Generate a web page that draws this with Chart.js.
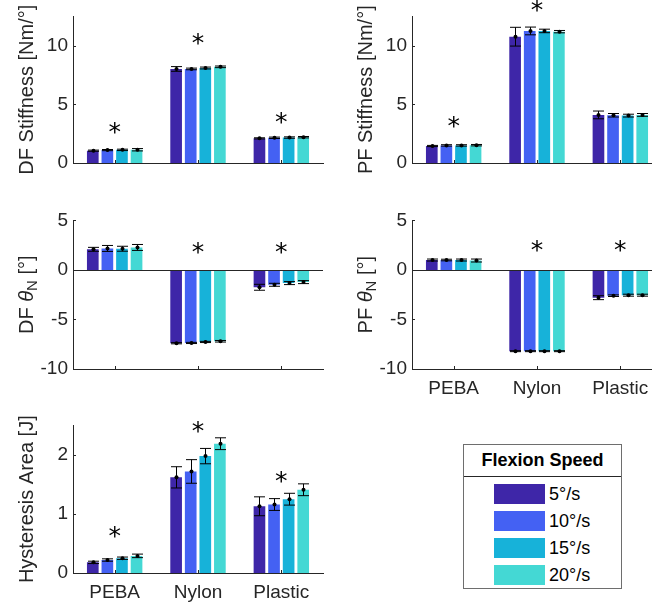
<!DOCTYPE html>
<html>
<head>
<meta charset="utf-8">
<script src="https://cdn.jsdelivr.net/npm/chart.js@4"></script>
<style>
    html, body { margin: 0; padding: 0; background: #fff; }
    body { width: 652px; height: 605px; overflow: hidden; position: relative; font-family: "Liberation Sans", Arial, sans-serif; }
    canvas { position: absolute; }
    #legend { position: absolute; left: 463px; top: 444px; width: 157px; height: 143px; border: 1px solid #6e6e6e; background: #fff; }
    #legend .ttl { height: 31px; line-height: 31px; border-bottom: 1px solid #262626; text-align: center; font-weight: bold; font-size: 18px; color: #000; }
    #legend .row { position: absolute; left: 30px; height: 20px; }
    #legend .sw { position: absolute; left: 0; top: 0; width: 51px; height: 20px; }
    #legend .lb { position: absolute; left: 55px; top: -1px; font-size: 18px; line-height: 22px; color: #000; white-space: nowrap; }
</style>
</head>
<body>
<canvas id="df_stiff" width="330" height="190" style="left:0;top:0"></canvas>
<canvas id="pf_stiff" width="330" height="190" style="left:339px;top:0"></canvas>
<canvas id="df_theta" width="330" height="195" style="left:0;top:204px"></canvas>
<canvas id="pf_theta" width="330" height="195" style="left:339px;top:204px"></canvas>
<canvas id="hyst" width="330" height="194" style="left:0;top:409px"></canvas>
<div id="legend"><div class="ttl">Flexion Speed</div></div>

<script>
var materials = ['PEBA', 'Nylon', 'Plastic'];
var speeds = ['5°/s', '10°/s', '15°/s', '20°/s'];
var speedColors = ['#3E26A8', '#4461F3', '#17B2D9', '#44D8D4'];

// one row per speed, values for PEBA, Nylon, Plastic
var dfStiffMean = [[1.05, 8.02, 2.1], [1.1, 8.02, 2.15], [1.12, 8.1, 2.17], [1.13, 8.2, 2.2]];
var dfStiffErr  = [[0.05, 0.2, 0.05], [0.05, 0.07, 0.06], [0.06, 0.08, 0.06], [0.1, 0.07, 0.06]];
var dfStiffStar = [3.0, 10.6, 3.8];
var stiffTicks  = [0, 5, 10];

var pfStiffMean = [[1.45, 10.77, 4.1], [1.5, 11.26, 4.07], [1.5, 11.26, 4.04], [1.52, 11.2, 4.1]];
var pfStiffErr  = [[0.05, 0.8, 0.33], [0.06, 0.33, 0.15], [0.06, 0.15, 0.12], [0.06, 0.1, 0.12]];
var pfStiffStar = [3.5, 13.4, null];

var dfThetaMean = [[2.08, -7.4, -1.75], [2.17, -7.37, -1.5], [2.14, -7.27, -1.33], [2.27, -7.2, -1.23]];
var dfThetaErr  = [[0.2, 0.06, 0.3], [0.3, 0.06, 0.15], [0.25, 0.06, 0.15], [0.3, 0.08, 0.15]];
var dfThetaStar = [null, 2.2, 2.2];
var thetaTicks  = [-10, -5, 0, 5];

var pfThetaMean = [[1.0, -8.2, -2.8], [1.0, -8.2, -2.6], [1.0, -8.2, -2.55], [0.95, -8.2, -2.55]];
var pfThetaErr  = [[0.1, 0.05, 0.2], [0.08, 0.05, 0.08], [0.1, 0.05, 0.1], [0.15, 0.05, 0.1]];
var pfThetaStar = [null, 2.4, 2.4];

var hystMean = [[0.18, 1.62, 1.13], [0.22, 1.72, 1.16], [0.25, 1.98, 1.25], [0.29, 2.19, 1.41]];
var hystErr  = [[0.02, 0.18, 0.16], [0.02, 0.2, 0.1], [0.02, 0.13, 0.1], [0.03, 0.1, 0.1]];
var hystStar = [0.7, 2.47, 1.63];
var hystTicks = [0, 1, 2];

var axisColor = '#262626';
var fontFam = '"Liberation Sans", Arial, sans-serif';

// error bars, asterisks, baseline, inward ticks and the y label
var extras = {
    id: 'extras',
    afterDatasetsDraw: function(chart, args, opts) {
        var ctx = chart.ctx, ca = chart.chartArea;
        var xs = chart.scales.x, ys = chart.scales.y;
        ctx.save();

        // baseline at zero
        var y0 = Math.round(ys.getPixelForValue(0)) + 0.5;
        ctx.strokeStyle = axisColor;
        ctx.lineWidth = 1;
        ctx.beginPath();
        ctx.moveTo(ca.left, y0);
        ctx.lineTo(ca.right, y0);
        ctx.stroke();

        // error bars
        ctx.strokeStyle = '#000';
        ctx.fillStyle = '#000';
        chart.data.datasets.forEach(function(ds, i) {
            var meta = chart.getDatasetMeta(i);
            meta.data.forEach(function(bar, j) {
                var m = ds.data[j], e = ds.err[j];
                var x = Math.round(bar.x) + 0.5;
                var yt = ys.getPixelForValue(m + e), yb = ys.getPixelForValue(m - e);
                var cw = 5.5;
                ctx.beginPath();
                ctx.moveTo(x, yt); ctx.lineTo(x, yb);
                ctx.moveTo(x - cw, yt); ctx.lineTo(x + cw, yt);
                ctx.moveTo(x - cw, yb); ctx.lineTo(x + cw, yb);
                ctx.stroke();
                ctx.beginPath();
                ctx.arc(x, ys.getPixelForValue(m), 2, 0, Math.PI * 2);
                ctx.fill();
            });
        });

        // significance stars
        ctx.font = '25px "DejaVu Sans", sans-serif';
        ctx.textAlign = 'center';
        ctx.textBaseline = 'alphabetic';
        var mt = ctx.measureText('*');
        var off = (mt.actualBoundingBoxAscent - mt.actualBoundingBoxDescent) / 2;
        opts.stars.forEach(function(v, j) {
            if (v === null) return;
            ctx.fillText('*', xs.getPixelForValue(j), ys.getPixelForValue(v) + off);
        });

        // inward tick marks
        ctx.strokeStyle = axisColor;
        ctx.beginPath();
        opts.ticks.forEach(function(v) {
            var y = Math.round(ys.getPixelForValue(v)) + 0.5;
            ctx.moveTo(ca.left, y); ctx.lineTo(ca.left + 3, y);
        });
        materials.forEach(function(m, j) {
            var x = Math.round(xs.getPixelForValue(j)) + 0.5;
            ctx.moveTo(x, ca.bottom); ctx.lineTo(x, ca.bottom - 3);
        });
        ctx.stroke();

        // y label (rich text, rotated)
        var parts = opts.label;
        ctx.fillStyle = axisColor;
        ctx.textAlign = 'left';
        ctx.textBaseline = 'middle';
        ctx.translate(27, (ca.top + ca.bottom) / 2);
        ctx.rotate(-Math.PI / 2);
        var total = 0;
        parts.forEach(function(p) {
            ctx.font = (p.it ? 'italic ' : '') + (p.sub ? '15px ' : '20px ') + fontFam;
            p.w = ctx.measureText(p.t).width;
            total += p.w;
        });
        var px = -total / 2;
        parts.forEach(function(p) {
            ctx.font = (p.it ? 'italic ' : '') + (p.sub ? '15px ' : '20px ') + fontFam;
            ctx.fillText(p.t, px, p.sub ? 6 : 0);
            px += p.w;
        });
        ctx.restore();
    }
};

function panel(id, means, errs, stars, ymin, ymax, tickVals, label, showX, xh) {
    var datasets = [];
    for (var i = 0; i < speeds.length; i++) {
        datasets.push({
            label: speeds[i],
            data: means[i],
            err: errs[i],
            backgroundColor: speedColors[i],
            borderWidth: 0,
            categoryPercentage: 0.7,
            barPercentage: 0.8
        });
    }
    new Chart(document.getElementById(id), {
        type: 'bar',
        data: { labels: materials, datasets: datasets },
        options: {
            responsive: false,
            animation: false,
            devicePixelRatio: 1,
            layout: { padding: { top: 12, right: 7, left: 0, bottom: 0 } },
            plugins: {
                legend: { display: false },
                tooltip: { enabled: false },
                extras: { stars: stars, ticks: tickVals, label: label }
            },
            scales: {
                x: {
                    grid: { display: false, drawTicks: false },
                    border: { display: true, color: axisColor, width: 1 },
                    ticks: { display: showX, color: axisColor, padding: 8, font: { size: 19, family: fontFam } },
                    afterFit: function(s) { s.height = xh; }
                },
                y: {
                    min: ymin,
                    max: ymax,
                    grid: { display: false, drawTicks: false },
                    border: { display: true, color: axisColor, width: 1 },
                    ticks: { color: axisColor, padding: 5, font: { size: 19, family: fontFam } },
                    afterBuildTicks: function(s) { s.ticks = tickVals.map(function(v) { return { value: v }; }); },
                    afterFit: function(s) { s.width = 73; }
                }
            }
        },
        plugins: [extras]
    });
}

panel('df_stiff', dfStiffMean, dfStiffErr, dfStiffStar, 0, 12.5, stiffTicks,
    [{ t: 'DF Stiffness [Nm/°]' }], false, 27);
panel('pf_stiff', pfStiffMean, pfStiffErr, pfStiffStar, 0, 12.5, stiffTicks,
    [{ t: 'PF Stiffness [Nm/°]' }], false, 27);
panel('df_theta', dfThetaMean, dfThetaErr, dfThetaStar, -10, 5, thetaTicks,
    [{ t: 'DF ' }, { t: 'θ', it: true }, { t: 'N', sub: true }, { t: ' [°]' }], false, 30);
panel('pf_theta', pfThetaMean, pfThetaErr, pfThetaStar, -10, 5, thetaTicks,
    [{ t: 'PF ' }, { t: 'θ', it: true }, { t: 'N', sub: true }, { t: ' [°]' }], true, 30);
panel('hyst', hystMean, hystErr, hystStar, 0, 2.5, hystTicks,
    [{ t: 'Hysteresis Area [J]' }], true, 30);

// legend box
var leg = document.getElementById('legend');
speeds.forEach(function(s, i) {
    var row = document.createElement('div');
    row.className = 'row';
    row.style.top = (39 + i * 27) + 'px';
    row.innerHTML = '<div class="sw" style="background:' + speedColors[i] + '"></div><div class="lb">' + s + '</div>';
    leg.appendChild(row);
});
</script>
</body>
</html>
